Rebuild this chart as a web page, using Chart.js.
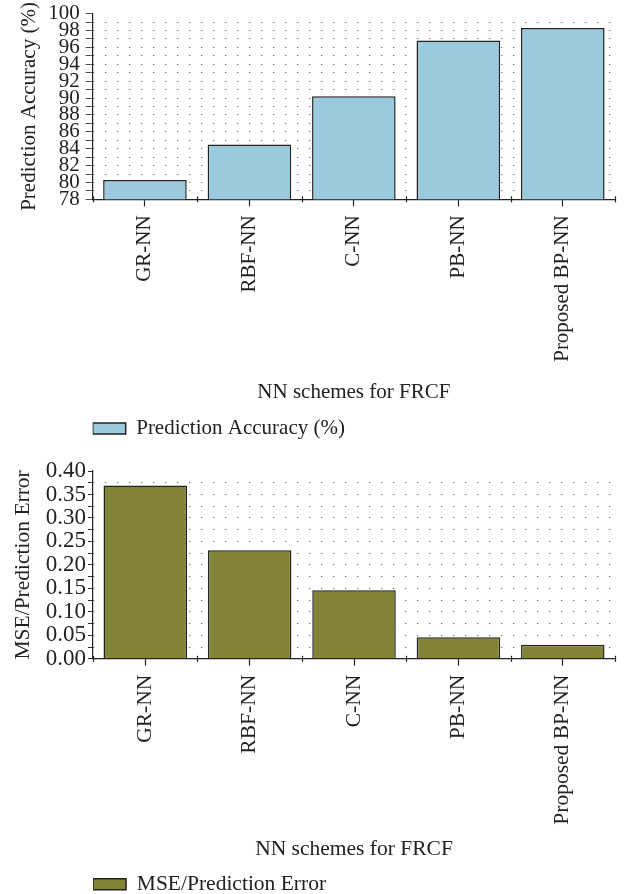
<!DOCTYPE html>
<html lang="en">
<head>
  <meta charset="UTF-8">
  <title>NN schemes for FRCF</title>
  <script src="https://cdn.jsdelivr.net/npm/chart.js"></script>
  <style>
    body, html {
      width: 629px;
      height: 894px;
      margin: 0;
      padding: 0;
      overflow: hidden;
      background: #fff;
      position: relative;
    }
    .box {
      position: absolute;
      left: 0;
      width: 629px;
    }
    #topBox { top: -5px; height: 454px; }
    #botBox { top: 447px; height: 458px; }
  </style>
</head>
<body>
  <div class="box" id="topBox"><canvas id="accChart"></canvas></div>
  <div class="box" id="botBox"><canvas id="mseChart"></canvas></div>

  <script>
    const schemes = ['GR-NN', 'RBF-NN', 'C-NN', 'PB-NN', 'Proposed BP-NN'];
    const accuracy = [80.3, 84.5, 90.2, 96.8, 98.3];
    const mseError = [0.369, 0.231, 0.146, 0.046, 0.030];

    const FONT = 'Liberation Serif';
    const INK = '#222';

    Chart.defaults.font.family = FONT;
    Chart.defaults.color = INK;
    Chart.defaults.animation = false;

    // little ticks on the category boundaries of the x axis
    const boundaryTicks = {
      id: 'boundaryTicks',
      afterDraw(chart) {
        const x = chart.scales.x;
        const ctx = chart.ctx;
        const n = chart.data.labels.length;
        ctx.save();
        ctx.strokeStyle = INK;
        ctx.lineWidth = 1.2;
        for (let i = 0; i <= n; i++) {
          const px = Math.round(x.getPixelForValue(i - 0.5)) + 0.5;
          ctx.beginPath();
          ctx.moveTo(px, x.top - 3);
          ctx.lineTo(px, x.top + 3);
          ctx.stroke();
        }
        ctx.restore();
      }
    };

    function makeChart(id, label, values, fill, yTitle, yMin, yMax, step, fmt, o) {
      const f = { size: o.size, family: FONT };
      return new Chart(document.getElementById(id), {
        type: 'bar',
        data: {
          labels: schemes,
          datasets: [{
            label: label,
            data: values,
            backgroundColor: fill,
            borderColor: '#222',
            borderWidth: 1.5,
            barPercentage: 0.8,
            categoryPercentage: 1
          }]
        },
        options: {
          responsive: true,
          maintainAspectRatio: false,
          layout: { padding: o.pad },
          plugins: {
            tooltip: { enabled: false },
            legend: {
              position: 'bottom',
              align: 'start',
              fullSize: false,
              labels: {
                boxWidth: 33,
                boxHeight: 11,
                padding: 0,
                font: f,
                color: INK
              }
            }
          },
          scales: {
            x: {
              border: { color: INK, width: 1.2 },
              grid: {
                offset: false,
                drawOnChartArea: false,
                tickLength: 7,
                tickColor: INK,
                tickWidth: 1.2
              },
              ticks: {
                minRotation: 90,
                maxRotation: 90,
                padding: 9,
                font: f,
                color: INK
              },
              title: {
                display: true,
                text: 'NN schemes for FRCF',
                font: f,
                color: INK,
                padding: o.xTitlePad
              }
            },
            y: {
              min: yMin,
              max: yMax,
              border: { color: INK, width: 1.2, dash: [1, 11] },
              grid: {
                color: ctx => (ctx.tick && ctx.tick.value === yMax) ? 'rgba(0,0,0,0)' : '#444',
                lineWidth: 1,
                tickBorderDash: [1, 0],
                tickColor: INK,
                tickLength: o.yTick,
                tickWidth: 1
              },
              ticks: {
                stepSize: step,
                autoSkip: false,
                padding: o.tickPad,
                font: { size: o.ySize, family: FONT },
                color: INK,
                callback: fmt
              },
              title: {
                display: true,
                text: yTitle,
                font: f,
                color: INK,
                padding: { top: 0, bottom: o.yTitleGap }
              }
            }
          }
        },
        plugins: [boundaryTicks]
      });
    }

    makeChart('accChart', 'Prediction Accuracy (%)', accuracy, '#99cadd',
      'Prediction Accuracy (%)', 78, 100, 1,
      (v) => (v % 2 === 0 ? v : ''),
      { size: 21, ySize: 21, yTick: 7, tickPad: 6, yTitleGap: 0,
        xTitlePad: { top: 9, bottom: 13 },
        pad: { top: 0, right: 14, bottom: 0, left: 17 } });

    makeChart('mseChart', 'MSE/Prediction Error', mseError, '#848436',
      'MSE/Prediction Error', 0, 0.4, 0.025,
      (v, i) => (i % 2 === 0 ? v.toFixed(2) : ''),
      { size: 21.5, ySize: 23, yTick: 5, tickPad: 2, yTitleGap: 8,
        xTitlePad: { top: 3, bottom: 11 },
        pad: { top: 24, right: 14, bottom: 0, left: 10 } });
  </script>
</body>
</html>
